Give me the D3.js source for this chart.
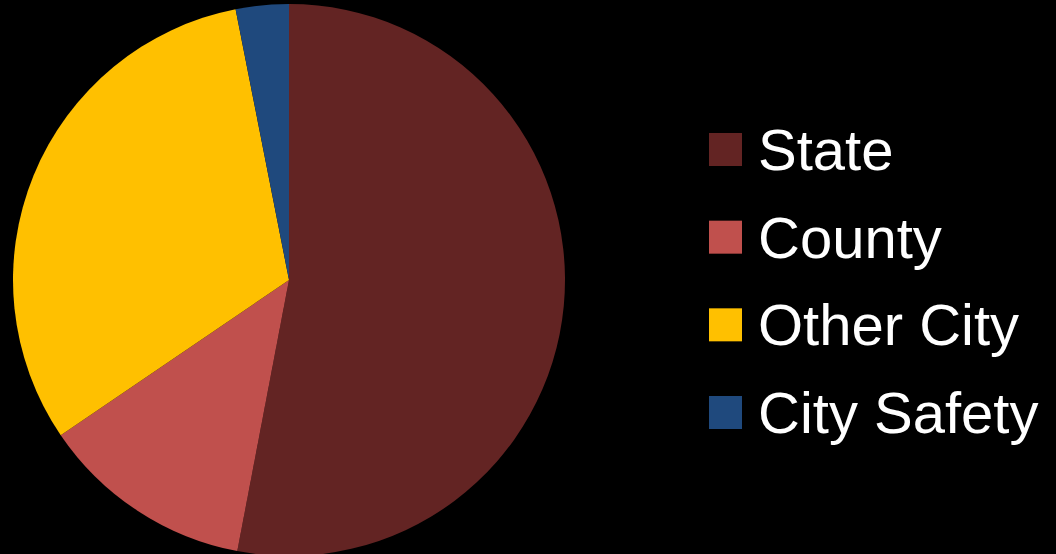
<!DOCTYPE html>
<html><head><meta charset="utf-8">
<script src="https://cdn.jsdelivr.net/npm/d3@7"></script>
<style>html,body{margin:0;padding:0;background:#000;overflow:hidden}</style>
</head><body>
<svg id="chart" width="1056" height="554"></svg>
<script>
const categories = ["State", "County", "Other City", "City Safety"];
const values = [53.0, 12.5, 31.4, 3.1];
const colors = ["#632423", "#C0504D", "#FFC000", "#1F497D"];

const svg = d3.select("#chart");
svg.append("rect").attr("width", 1056).attr("height", 554).attr("fill", "#000");

const data = categories.map((c, i) => ({ name: c, value: values[i] }));
const pie = d3.pie().sort(null).value(d => d.value);
const arc = d3.arc().innerRadius(0).outerRadius(276);
const color = d3.scaleOrdinal().domain(categories).range(colors);

const g = svg.append("g").attr("transform", "translate(289,280)");
g.selectAll("path").data(pie(data)).join("path")
  .attr("d", arc)
  .attr("fill", d => color(d.data.name));

const ly = d3.scalePoint().domain(categories).range([149.5, 412.5]);
const lg = svg.append("g");
const items = lg.selectAll("g").data(categories).join("g")
  .attr("transform", d => `translate(709,${ly(d)})`);
items.append("rect").attr("x", 0).attr("y", -16.5).attr("width", 33).attr("height", 33)
  .attr("fill", d => color(d));
items.append("text").attr("x", 49).attr("y", 20.5)
  .attr("fill", "#fff")
  .style("font-family", "'Liberation Sans', Arial, sans-serif")
  .style("font-size", "58px")
  .text(d => d);
</script>
</body></html>
